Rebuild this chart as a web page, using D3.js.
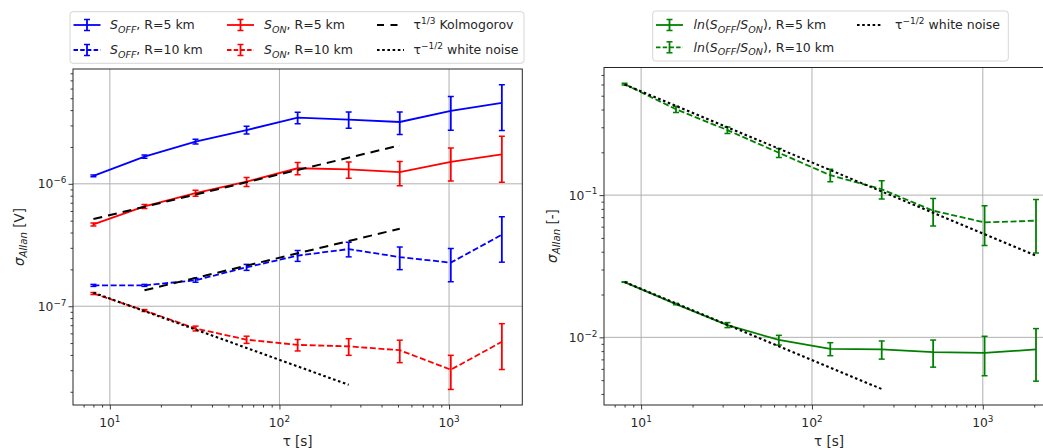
<!DOCTYPE html>
<html><head><meta charset="utf-8">
<script src="https://cdn.jsdelivr.net/npm/d3@7"></script>
<style>
body{margin:0;background:#fff;}
text{font-family:"DejaVu Sans",sans-serif;fill:#262626;}
</style>
</head><body>
<svg id="c" width="1043" height="448"></svg>
<script>
// ---------- data ----------
const tau = [8, 16, 32, 64, 128, 256, 512, 1024, 2048];

const sOff5    = [1.16e-6, 1.67e-6, 2.21e-6, 2.75e-6, 3.47e-6, 3.35e-6, 3.20e-6, 3.95e-6, 4.58e-6];
const sOff5Err = [0.02e-6, 0.05e-6, 0.10e-6, 0.20e-6, 0.38e-6, 0.51e-6, 0.67e-6, 1.21e-6, 1.86e-6];
const sOn5     = [4.66e-7, 6.53e-7, 8.40e-7, 1.04e-6, 1.34e-6, 1.31e-6, 1.245e-6, 1.51e-6, 1.74e-6];
const sOn5Err  = [0.13e-7, 0.25e-7, 0.47e-7, 0.88e-7, 1.55e-7, 2.0e-7, 2.8e-7, 4.55e-7, 7.1e-7];
const sOff10    = [1.48e-7, 1.48e-7, 1.63e-7, 2.08e-7, 2.59e-7, 2.93e-7, 2.52e-7, 2.27e-7, 3.84e-7];
const sOff10Err = [0.028e-7, 0.028e-7, 0.061e-7, 0.117e-7, 0.265e-7, 0.40e-7, 0.53e-7, 0.685e-7, 1.55e-7];
const sOn10     = [1.27e-7, 9.22e-8, 6.58e-8, 5.33e-8, 4.83e-8, 4.70e-8, 4.37e-8, 3.03e-8, 5.12e-8];
const sOn10Err  = [0.24e-8, 0.17e-8, 0.30e-8, 0.36e-8, 0.52e-8, 0.73e-8, 0.91e-8, 0.94e-8, 2.08e-8];

const lnR5     = [0.02447, 0.01714, 0.0122, 0.00958, 0.0083, 0.00823, 0.00787, 0.00777, 0.00822];
const lnR5Err  = [0.0001, 0.0002, 0.0005, 0.00075, 0.00087, 0.0012, 0.0017, 0.0024, 0.0033];
const lnR10    = [0.603, 0.4015, 0.2865, 0.1985, 0.138, 0.110, 0.0777, 0.0643, 0.0661];
const lnR10Err = [0.008, 0.020, 0.015, 0.0145, 0.014, 0.016, 0.017, 0.020, 0.027];

// reference power-law lines: [tau, value] endpoints
const kolmoA  = [[8, 5.15e-7], [512, 2.06e-6]];
const kolmoB  = [[16, 1.35e-7], [512, 4.30e-7]];
const whiteL  = [[8, 1.29e-7], [256, 2.28e-8]];
const whiteR1 = [[8, 0.600], [2048, 0.0375]];
const whiteR2 = [[8, 0.0245], [256, 0.00433]];

const xMajor = [10, 100, 1000];
const xMinor = [7, 8, 9, 20, 30, 40, 50, 60, 70, 80, 90, 200, 300, 400, 500, 600, 700, 800, 900, 2000];
const yMajorL = [1e-7, 1e-6];
const yMinorL = [2e-8, 3e-8, 4e-8, 5e-8, 6e-8, 7e-8, 8e-8, 9e-8, 2e-7, 3e-7, 4e-7, 5e-7, 6e-7, 7e-7, 8e-7, 9e-7, 2e-6, 3e-6, 4e-6, 5e-6, 6e-6, 7e-6, 8e-6];
const yMajorR = [1e-2, 1e-1];
const yMinorR = [4e-3, 5e-3, 6e-3, 7e-3, 8e-3, 9e-3, 2e-2, 3e-2, 4e-2, 5e-2, 6e-2, 7e-2, 8e-2, 9e-2, 0.2, 0.3, 0.4, 0.5, 0.6, 0.7];

// ---------- helpers ----------
const svg = d3.select("#c");
const FS = 12.5;
const LW = 1.8;

function rich(sel, segs, fs) {
  let cur = 0;
  segs.forEach(s => {
    const t = s[0], st = s[1] || {};
    let shift = 0, size = fs;
    if (st.sub) { shift = fs * 0.25; size = fs * 0.76; }
    if (st.sup) { shift = -fs * 0.42; size = fs * 0.72; }
    sel.append("tspan").attr("dy", (shift - cur).toFixed(2))
      .style("font-size", size + "px")
      .style("font-style", st.it ? "italic" : "normal")
      .text(t);
    cur = shift;
  });
}

function expLabel(v) {
  const e = Math.round(Math.log10(v));
  return [["10"], [String(e).replace("-", "\u2212"), {sup: true}]];
}

function makeAxes(id, x, y, yMaj, yMin) {
  const [x0, x1] = x.range(), [y1, y0] = y.range();
  const g = svg.append("g");
  g.selectAll(".gx").data(xMajor).enter().append("line")
    .attr("x1", d => x(d)).attr("x2", d => x(d)).attr("y1", y0).attr("y2", y1)
    .attr("stroke", "#b0b0b0").attr("stroke-width", 1);
  g.selectAll(".gy").data(yMaj).enter().append("line")
    .attr("y1", d => y(d)).attr("y2", d => y(d)).attr("x1", x0).attr("x2", x1)
    .attr("stroke", "#b0b0b0").attr("stroke-width", 1);
  const ax = (axis, vals, size) => axis.tickValues(vals).tickSize(size).tickFormat(() => "");
  const xb = g.append("g").attr("transform", `translate(0,${y1})`);
  xb.call(ax(d3.axisBottom(x), xMajor, 4.5));
  xb.append("g").call(ax(d3.axisBottom(x), xMinor, 2.5));
  const yl = g.append("g").attr("transform", `translate(${x0},0)`);
  yl.call(ax(d3.axisLeft(y), yMaj, 4.5));
  yl.append("g").call(ax(d3.axisLeft(y), yMin, 2.5));
  g.selectAll(".domain").remove();
  g.selectAll(".tick line").attr("stroke", "#262626").attr("stroke-width", 0.9);
  xMajor.forEach(v => {
    const t = g.append("text").attr("x", x(v)).attr("y", y1 + 21.8).attr("text-anchor", "middle");
    rich(t, expLabel(v), 12.3);
  });
  yMaj.forEach(v => {
    const t = g.append("text").attr("x", x0 - 6.5).attr("y", y(v) + 4.5).attr("text-anchor", "end");
    rich(t, expLabel(v), 12.3);
  });
  g.append("rect").attr("x", x0).attr("y", y0).attr("width", x1 - x0).attr("height", y1 - y0)
    .attr("fill", "none").attr("stroke", "#262626").attr("stroke-width", 1);
  svg.append("clipPath").attr("id", id).append("rect")
    .attr("x", x0).attr("y", y0).attr("width", x1 - x0).attr("height", y1 - y0);
  return svg.append("g").attr("clip-path", `url(#${id})`);
}

function series(g, x, y, ys, es, color, dash) {
  const line = d3.line().x((d, i) => x(tau[i])).y(d => y(d));
  g.append("path").attr("d", line(ys)).attr("fill", "none").attr("stroke", color)
    .attr("stroke-width", LW).attr("stroke-dasharray", dash || null);
  ys.forEach((v, i) => {
    const xx = x(tau[i]), ya = y(v + es[i]), yb = y(v - es[i]);
    g.append("line").attr("x1", xx).attr("x2", xx).attr("y1", ya).attr("y2", yb)
      .attr("stroke", color).attr("stroke-width", LW);
    [ya, yb].forEach(yy => g.append("line").attr("x1", xx - 3).attr("x2", xx + 3)
      .attr("y1", yy).attr("y2", yy).attr("stroke", color).attr("stroke-width", 1.5));
  });
}

function refLine(g, x, y, pts, dash, w) {
  const line = d3.line().x(d => x(d[0])).y(d => y(d[1]));
  g.append("path").attr("d", line(pts)).attr("fill", "none").attr("stroke", "#000")
    .attr("stroke-width", w).attr("stroke-dasharray", dash);
}

const DASH = "6,2.6", KDASH = "9,6", DOT = "2.6,2.6";

// ---------- left panel ----------
const xL = d3.scaleLog().domain([10 ** 0.7827, 10 ** 3.4319]).range([73, 522.3]);
const yL = d3.scaleLog().domain([10 ** -7.807, 10 ** -5.062]).range([405, 69]);
const gL = makeAxes("clipL", xL, yL, yMajorL, yMinorL);
series(gL, xL, yL, sOff5, sOff5Err, "#0000ff", null);
series(gL, xL, yL, sOff10, sOff10Err, "#0000ff", DASH);
series(gL, xL, yL, sOn5, sOn5Err, "#ff0000", null);
series(gL, xL, yL, sOn10, sOn10Err, "#ff0000", DASH);
refLine(gL, xL, yL, kolmoA, KDASH, 2);
refLine(gL, xL, yL, kolmoB, KDASH, 2);
refLine(gL, xL, yL, whiteL, DOT, 2.1);

// ---------- right panel ----------
const xR = d3.scaleLog().domain([10 ** 0.7827, 10 ** 3.4319]).range([604, 1056.6]);
const yR = d3.scaleLog().domain([10 ** -2.4758, 10 ** -0.1026]).range([405, 67.5]);
const gR = makeAxes("clipR", xR, yR, yMajorR, yMinorR);
series(gR, xR, yR, lnR5, lnR5Err, "#008000", null);
series(gR, xR, yR, lnR10, lnR10Err, "#008000", DASH);
refLine(gR, xR, yR, whiteR1, DOT, 2.1);
refLine(gR, xR, yR, whiteR2, DOT, 2.1);

// ---------- axis labels ----------
function xlabel(cx) {
  const t = svg.append("text").attr("x", cx).attr("y", 445.5).attr("text-anchor", "middle");
  rich(t, [["\u03c4 [s]"]], 13.5);
}
xlabel((73 + 522.3) / 2);
xlabel(xR(10 ** 2.1));
function ylabel(cx, cy, unit) {
  const t = svg.append("text").attr("transform", `translate(${cx},${cy}) rotate(-90)`).attr("text-anchor", "middle");
  rich(t, [["\u03c3", {it: true}], ["Allan", {it: true, sub: true}], [" [" + unit + "]"]], 13.5);
}
ylabel(24, 237, "V");
ylabel(557, 236, "-");

// ---------- legends ----------
function legendBox(x0, y0, x1, y1) {
  svg.append("rect").attr("x", x0).attr("y", y0).attr("width", x1 - x0).attr("height", y1 - y0)
    .attr("rx", 3).attr("fill", "#fff").attr("fill-opacity", 0.8).attr("stroke", "#d6d6d6").attr("stroke-width", 1);
}
function handle(hx0, hx1, cy, color, dash, err) {
  svg.append("line").attr("x1", hx0).attr("x2", hx1).attr("y1", cy).attr("y2", cy)
    .attr("stroke", color).attr("stroke-width", dash === DOT ? 2.1 : LW).attr("stroke-dasharray", dash || null);
  if (err) {
    const m = (hx0 + hx1) / 2;
    svg.append("line").attr("x1", m).attr("x2", m).attr("y1", cy - 5.5).attr("y2", cy + 5.5).attr("stroke", color).attr("stroke-width", LW);
    [cy - 5.5, cy + 5.5].forEach(yy => svg.append("line").attr("x1", m - 3).attr("x2", m + 3).attr("y1", yy).attr("y2", yy).attr("stroke", color).attr("stroke-width", 1.5));
  }
}
function legText(x, y, segs) {
  const t = svg.append("text").attr("x", x).attr("y", y + 4.4);
  rich(t, segs, FS);
}
const sOffT = [["S", {it: true}], ["OFF", {it: true, sub: true}]];
const sOnT = [["S", {it: true}], ["ON", {it: true, sub: true}]];

legendBox(70, 11.7, 524, 63.3);
handle(73.5, 100.5, 25, "#0000ff", null, true);
legText(110, 25, [...sOffT, [", R=5 km"]]);
handle(73.5, 100.5, 50, "#0000ff", "4.5,2.2", true);
legText(110, 50, [...sOffT, [", R=10 km"]]);
handle(227, 254, 25, "#ff0000", null, true);
legText(264, 25, [...sOnT, [", R=5 km"]]);
handle(227, 254, 50, "#ff0000", "4.5,2.2", true);
legText(264, 50, [...sOnT, [", R=10 km"]]);
handle(377, 404, 25, "#000", "7,6.5", false);
legText(413.5, 25, [["\u03c4"], ["1/3", {sup: true}], [" Kolmogorov"]]);
handle(377, 404, 50, "#000", DOT, false);
legText(413.5, 50, [["\u03c4"], ["\u22121/2", {sup: true}], [" white noise"]]);

legendBox(652.7, 11, 1008.3, 61);
const lnT = [["ln", {it: true}], ["("], ["S", {it: true}], ["OFF", {it: true, sub: true}], ["/"], ["S", {it: true}], ["ON", {it: true, sub: true}], [")"]];
handle(656, 683, 25, "#008000", null, true);
legText(693.5, 25, [...lnT, [", R=5 km"]]);
handle(656, 683, 47.3, "#008000", "4.5,2.2", true);
legText(693.5, 47.3, [...lnT, [", R=10 km"]]);
handle(857, 881, 25, "#000", DOT, false);
legText(895, 25, [["\u03c4"], ["\u22121/2", {sup: true}], [" white noise"]]);
</script>
</body></html>
